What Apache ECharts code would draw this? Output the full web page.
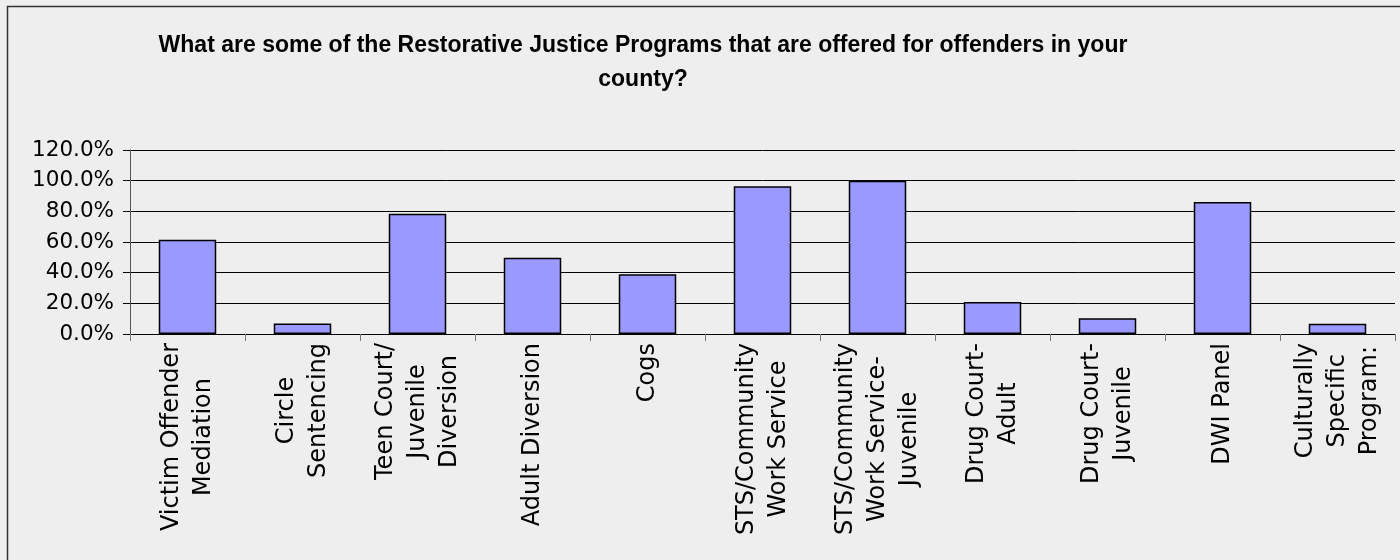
<!DOCTYPE html>
<html>
<head>
<meta charset="utf-8">
<script src="https://cdn.jsdelivr.net/npm/echarts@6/dist/echarts.min.js"></script>
<style>html,body{margin:0;padding:0;background:#eeeeee;}#c{width:1400px;height:560px;}</style>
</head>
<body>
<div id="c"></div>
<script>
var categories = [
  "Victim Offender\nMediation",
  "Circle\nSentencing",
  "Teen Court/\nJuvenile\nDiversion",
  "Adult Diversion",
  "Cogs",
  "STS/Community\nWork Service",
  "STS/Community\nWork Service-\nJuvenile",
  "Drug Court-\nAdult",
  "Drug Court-\nJuvenile",
  "DWI Panel",
  "Culturally\nSpecific\nProgram:"
];
var values = [0.615, 0.069, 0.785, 0.498, 0.389, 0.963, 1.0, 0.209, 0.102, 0.861, 0.067];
var yTicks = { min: 0, max: 1.2, interval: 0.2 };
var titleText = "What are some of the Restorative Justice Programs that are offered for offenders in your\ncounty?";

var chart = echarts.init(document.getElementById('c'));
chart.setOption({
  backgroundColor: '#eeeeee',
  animation: false,
  title: {
    text: titleText,
    left: 638,
    top: 24,
    textAlign: 'center',
    textStyle: { fontFamily: 'Liberation Sans', fontWeight: 'bold', fontSize: 23, color: '#000', lineHeight: 34 }
  },
  graphic: [{
    type: 'rect', shape: { x: 7.5, y: 6.5, width: 1400, height: 600 },
    style: { fill: 'none', stroke: '#333', lineWidth: 1.5 }, silent: true
  }],
  grid: { left: 130, right: 5, top: 150, bottom: 226, containLabel: false },
  xAxis: {
    type: 'category',
    data: categories,
    axisLine: { show: true, lineStyle: { color: '#000', width: 1 } },
    axisTick: { show: true, length: 7, lineStyle: { color: '#777' } },
    axisLabel: {
      interval: 0, rotate: 90, margin: 9, color: '#000',
      formatter: function (v) { return v.split('\n').map(function (l) { return '{c|' + l + '}'; }).join('\n'); },
      rich: { c: { align: 'center', fontFamily: 'DejaVu Sans', fontSize: 24, lineHeight: 32, color: '#000' } }
    }
  },
  yAxis: {
    type: 'value',
    min: yTicks.min, max: yTicks.max, interval: yTicks.interval,
    axisLine: { show: true, lineStyle: { color: '#555', width: 1 } },
    axisTick: { show: true, length: 7, lineStyle: { color: '#000' } },
    splitLine: { show: true, lineStyle: { color: '#000', width: 1 } },
    axisLabel: {
      margin: 16, color: '#000', fontFamily: 'DejaVu Sans', fontSize: 21.5,
      formatter: function (v) { return (v * 100).toFixed(1) + '%'; }
    }
  },
  series: [{
    type: 'bar',
    data: values,
    barWidth: '50%',
    itemStyle: { color: '#9999ff', borderColor: '#000', borderWidth: 1.5 }
  }]
});
</script>
</body>
</html>
